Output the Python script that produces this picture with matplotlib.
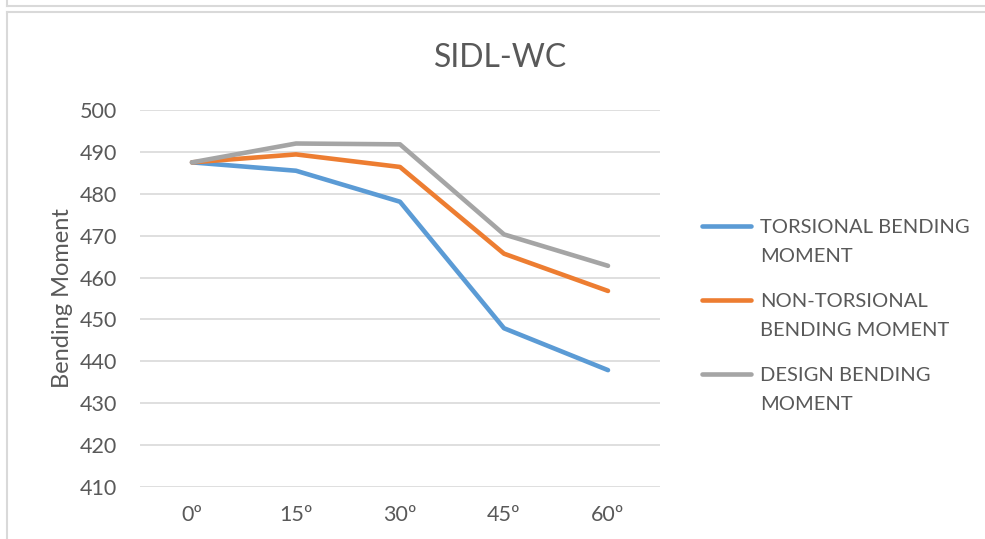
import matplotlib
matplotlib.use("Agg")
import matplotlib.pyplot as plt
from matplotlib.lines import Line2D

plt.rcParams['font.family'] = ['Lato', 'DejaVu Sans']

# bending moment vs skew angle
angles = ["0º", "15º", "30º", "45º", "60º"]
torsional = [487.5, 485.5, 478.1, 447.9, 437.9]
non_torsional = [487.5, 489.4, 486.4, 465.7, 456.8]
design = [487.5, 492.0, 491.8, 470.3, 462.8]

series_names = ["TORSIONAL BENDING\nMOMENT", "NON-TORSIONAL\nBENDING MOMENT", "DESIGN BENDING\nMOMENT"]
colors = ["#5B9BD5", "#ED7D31", "#A5A5A5"]
text_col = "#595959"
grid_col = "#D9D9D9"

W, H = 985, 539
fig = plt.figure(figsize=(W / 100, H / 100), dpi=100)

# chart frame lines
border = dict(color=grid_col, lw=1.5, transform=fig.transFigure)
fig.add_artist(Line2D([7 / W, 7 / W], [1, 1 - 6 / H], **border))
fig.add_artist(Line2D([7 / W, 1], [1 - 6 / H, 1 - 6 / H], **border))
fig.add_artist(Line2D([7 / W, 1], [1 - 12 / H, 1 - 12 / H], **border))
fig.add_artist(Line2D([7 / W, 7 / W], [1 - 12 / H, 0], **border))

ax = fig.add_axes([140 / W, (H - 487) / H, 520 / W, 377 / H])
x = range(len(angles))
for vals, col in zip([torsional, non_torsional, design], colors):
    ax.plot(x, vals, color=col, lw=3.3, solid_capstyle='round', solid_joinstyle='round', zorder=3)

ax.set_xlim(-0.5, len(angles) - 0.5)
ax.set_ylim(410, 500)
ax.set_yticks(range(410, 501, 10))
ax.set_xticks(list(x))
ax.set_xticklabels(angles)
ax.grid(axis='y', color=grid_col, lw=1.2)
ax.set_axisbelow(True)
for s in ax.spines.values():
    s.set_visible(False)
ax.tick_params(length=0, labelsize=15.5, labelcolor=text_col)
ax.tick_params(axis='y', pad=16.5)
ax.tick_params(axis='x', pad=13)

ax.set_ylabel("Bending Moment", fontsize=17, color=text_col, labelpad=5)
fig.text(501 / W, 1 - 58 / H, "SIDL-WC", ha='center', va='center', fontsize=23, color=text_col)

# legend entries: handle level with the first text line
rows = [226, 300, 374]
for name, col, y in zip(series_names, colors, rows):
    yf = 1 - y / H
    fig.add_artist(Line2D([702 / W, 751 / W], [yf, yf], color=col, lw=3.3,
                          solid_capstyle='round', transform=fig.transFigure))
    for i, part in enumerate(name.split("\n")):
        fig.text(760 / W, 1 - (y + 29 * i) / H, part, ha='left', va='center_baseline',
                 fontsize=14.5, color=text_col)

fig.savefig("out.png", dpi=100, facecolor="white")
